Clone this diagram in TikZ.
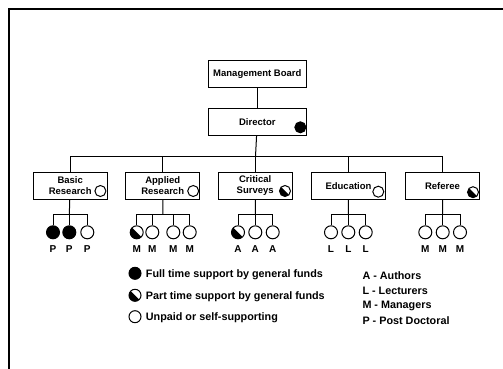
\documentclass[tikz,border=0pt]{standalone}
\usepackage{fontspec}
\setmainfont{Liberation Sans}
\usetikzlibrary{calc}
\tikzset{
	orgbox/.style={draw, line width=1pt, minimum width=74pt, minimum height=27pt, inner sep=1pt, align=center, font=\bfseries\fontsize{9.5}{10.8}\selectfont},
	member/.style={circle, draw, line width=1pt, minimum size=13pt, inner sep=0pt},
	badge/.style={member, minimum size=11pt},
	fullfund/.style={fill=black},
	partfund/.style={path picture={\fill (path picture bounding box.north west) -- (path picture bounding box.south east) -- (path picture bounding box.south west) -- cycle;}},
	role/.style={font=\bfseries\fontsize{10}{12}\selectfont, inner sep=0pt, label distance=6pt},
	legend/.style={font=\bfseries\fontsize{10.8}{12}\selectfont, anchor=west, inner sep=0pt},
	link/.style={line width=1pt}
}
\begin{document}
\begin{tikzpicture}[x=1pt, y=-1pt]
	\useasboundingbox (0,0) rectangle (503,369);
	% frame
	\draw[line width=1.8pt] (9,369) -- (9,9) -- (503,9);

	% top of the chart
	\node[orgbox, minimum width=98.5pt] (board) at (257.3,74) {Management Board};
	\node[orgbox, minimum width=98.5pt] (director) at (257.3,121.8) {Director};
	\node[badge, fullfund] (directorfund) at ($(director.east)+(-6.7,5.5)$) {};
	\coordinate (bus) at (255.5,156.3);

	% departments
	\node[orgbox] (basic) at (70.2,185.7) {Basic\\Research};
	\node[orgbox] (applied) at (162.7,185.7) {Applied\\Research};
	\node[orgbox] (critical) at (255.2,185.7) {Critical\\Surveys};
	\node[orgbox] (education) at (348.5,185.7) {Education};
	\node[orgbox] (referee) at (442.5,185.7) {Referee};
	\node[badge] (basicfund) at ($(basic.east)+(-7.3,5.3)$) {};
	\node[badge] (appliedfund) at ($(applied.east)+(-7,5.3)$) {};
	\node[badge, partfund] (criticalfund) at ($(critical.east)+(-7.7,5.3)$) {};
	\node[badge] (educationfund) at ($(education.east)+(-7.7,6)$) {};
	\node[badge, partfund] (refereefund) at ($(referee.east)+(-7,6.5)$) {};

	% staff
	\begin{scope}[every label/.style={role}]
		\node[member, fullfund, label=below:P] (p1) at (53,232.3) {};
		\node[member, fullfund, label=below:P] (p2) at (69.3,232.3) {};
		\node[member, label=below:P] (p3) at (87.3,232.3) {};
		\node[member, partfund, label=below:M] (m1) at (136.7,232.3) {};
		\node[member, label=below:M] (m2) at (152.3,232.3) {};
		\node[member, label=below:M] (m3) at (173.3,232.3) {};
		\node[member, label=below:M] (m4) at (189.7,232.3) {};
		\node[member, partfund, label=below:A] (a1) at (238,232.3) {};
		\node[member, label=below:A] (a2) at (255.3,232.3) {};
		\node[member, label=below:A] (a3) at (272.7,232.3) {};
		\node[member, label=below:L] (l1) at (331,232.3) {};
		\node[member, label=below:L] (l2) at (348.3,232.3) {};
		\node[member, label=below:L] (l3) at (365.7,232.3) {};
		\node[member, label=below:M] (r1) at (425.3,232.3) {};
		\node[member, label=below:M] (r2) at (442.7,232.3) {};
		\node[member, label=below:M] (r3) at (460,232.3) {};
	\end{scope}
	\coordinate (basicjoin) at (69.3,214.7);
	\coordinate (appliedjoin) at (163,214.7);
	\coordinate (criticaljoin) at (255.3,214.7);
	\coordinate (educationjoin) at (348.3,214.7);
	\coordinate (refereejoin) at (442.7,214.7);

	% connectors
	\begin{scope}[link]
		\draw (board) -- (director);
		\draw (director) -- (bus);
		\foreach \dept in {basic,applied,critical,education,referee}
			\draw (bus) -| (\dept);
		\foreach \dept/\staff in {basic/{p1,p2,p3}, applied/{m1,m2,m3,m4}, critical/{a1,a2,a3}, education/{l1,l2,l3}, referee/{r1,r2,r3}} {
			\draw (\dept) -- (\dept join);
			\foreach \s in \staff
				\draw (\dept join) -| (\s);
		}
	\end{scope}

	% legend
	\node[member, fullfund, minimum size=12pt] (fullkey) at (135,273.3) {};
	\node[member, partfund, minimum size=12pt] (partkey) at (135,295.3) {};
	\node[member, minimum size=12pt] (nonekey) at (135,316.7) {};
	\node[legend] (fulltext) at (145.7,275) {Full time support by general funds};
	\node[legend] (parttext) at (145.7,296.5) {Part time support by general funds};
	\node[legend] (nonetext) at (145.7,317.5) {Unpaid or self-supporting};
	\node[legend] (keyA) at (362.3,276) {A - Authors};
	\node[legend] (keyL) at (362.3,291) {L - Lecturers};
	\node[legend] (keyM) at (362.3,305.7) {M - Managers};
	\node[legend] (keyP) at (362.3,320.3) {P - Post Doctoral};
\end{tikzpicture}
\end{document}
